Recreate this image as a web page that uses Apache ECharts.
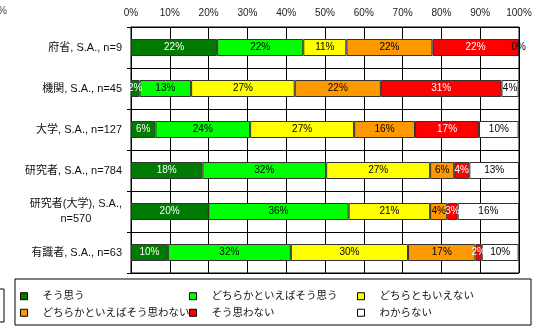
<!DOCTYPE html>
<html>
<head>
<meta charset="utf-8">
<script src="https://cdn.jsdelivr.net/npm/echarts@6/dist/echarts.min.js"></script>
<style>
  html, body { margin: 0; padding: 0; background: #fff; }
  #chart { width: 544px; height: 328px; }
</style>
</head>
<body>
<div id="chart"></div>
<script>
// Respondent groups (top to bottom)
const categories = [
  '府省, S.A., n=9',
  '機関, S.A., n=45',
  '大学, S.A., n=127',
  '研究者, S.A., n=784',
  '研究者(大学), S.A.,\nn=570',
  '有識者, S.A., n=63'
];

// Answer options
const answerNames = [
  'そう思う',
  'どちらかといえばそう思う',
  'どちらともいえない',
  'どちらかといえばそう思わない',
  'そう思わない',
  'わからない'
];

// Share of answers (%) per group
const soOmou          = [22.2,  2.2,  6.3, 18.4, 19.9,  9.5];
const dochiraSoOmou   = [22.2, 13.3, 24.4, 31.9, 36.2, 31.7];
const dochiraMoIenai  = [11.1, 26.7, 26.8, 26.8, 21.0, 30.2];
const dochiraOmowanai = [22.2, 22.2, 15.7,  6.2,  4.4, 17.4];
const soOmowanai      = [22.2, 31.1, 16.5,  3.9,  2.7,  1.6];
const wakaranai       = [ 0.0,  4.4, 10.2, 12.8, 15.8,  9.5];

// Axis tick values (%)
const xTicks = [0, 10, 20, 30, 40, 50, 60, 70, 80, 90, 100];

const seriesValues = [soOmou, dochiraSoOmou, dochiraMoIenai, dochiraOmowanai, soOmowanai, wakaranai];
const fills = ['#007a00', '#00ff00', '#ffff00', '#ff9900', '#ff0000', '#ffffff'];
const labelColors = ['#ffffff', '#000000', '#000000', '#000000', '#ffffff', '#000000'];

const FONT = "'Liberation Sans', 'Noto Sans CJK JP', sans-serif";

const chart = echarts.init(document.getElementById('chart'), null, { renderer: 'canvas' });

const series = seriesValues.map((vals, i) => ({
  name: answerNames[i],
  type: 'bar',
  stack: 'total',
  data: vals,
  barWidth: 17,
  itemStyle: { color: fills[i], borderColor: '#333', borderWidth: 1 },
  label: {
    show: true,
    position: 'inside',
    color: labelColors[i],
    fontSize: 10,
    fontFamily: FONT,
    formatter: p => Math.round(p.value) + '%'
  },
  emphasis: { disabled: true },
  animation: false
}));

const legendCommon = {
  orient: 'vertical',
  icon: 'rect',
  itemWidth: 7,
  itemHeight: 7,
  itemGap: 6,
  padding: 0,
  selectedMode: false,
  itemStyle: { borderColor: '#000', borderWidth: 1 },
  textStyle: { fontSize: 10.5, fontFamily: FONT, color: '#111', padding: [0, 0, 0, 10] }
};

chart.setOption({
  animation: false,
  backgroundColor: '#fff',
  grid: {
    left: 131, top: 27, width: 388, height: 246,
    show: true, borderColor: '#000', borderWidth: 1, containLabel: false
  },
  xAxis: {
    type: 'value',
    position: 'top',
    min: xTicks[0],
    max: xTicks[xTicks.length - 1],
    interval: 10,
    axisLine: { show: true, lineStyle: { color: '#000' } },
    axisTick: { show: false },
    splitLine: { show: true, lineStyle: { color: '#000', width: 1 } },
    axisLabel: {
      fontSize: 10, fontFamily: FONT, color: '#222', margin: 9,
      formatter: v => v + '%'
    }
  },
  yAxis: {
    type: 'category',
    inverse: true,
    data: categories,
    axisLine: { show: true, lineStyle: { color: '#000' } },
    axisTick: { show: true, length: 4, lineStyle: { color: '#000' } },
    splitLine: { show: true, lineStyle: { color: '#000', width: 1 } },
    axisLabel: {
      fontSize: 11, fontFamily: FONT, color: '#111', margin: 9, lineHeight: 15,
      formatter: v => v.indexOf('\n') >= 0
        ? v.split('\n').map(s => '{c|' + s + '}').join('\n')
        : v,
      rich: { c: { align: 'center', fontSize: 11, fontFamily: FONT, color: '#111', lineHeight: 15 } }
    }
  },
  legend: [
    Object.assign({}, legendCommon, { data: [answerNames[0], answerNames[3]], left: 20, top: 291 }),
    Object.assign({}, legendCommon, { data: [answerNames[1], answerNames[4]], left: 189, top: 291 }),
    Object.assign({}, legendCommon, { data: [answerNames[2], answerNames[5]], left: 357, top: 291 })
  ],
  graphic: [
    { type: 'rect', shape: { x: 15, y: 279, width: 516, height: 46 },
      style: { fill: 'none', stroke: '#000', lineWidth: 1 }, silent: true },
    { type: 'rect', shape: { x: -6, y: 289, width: 10, height: 33 },
      style: { fill: 'none', stroke: '#000', lineWidth: 1 }, silent: true },
    { type: 'text', left: -2, top: 6,
      style: { text: '%', fontSize: 10, fontFamily: FONT, fill: '#444' }, silent: true }
  ],
  series: series
});
</script>
</body>
</html>
